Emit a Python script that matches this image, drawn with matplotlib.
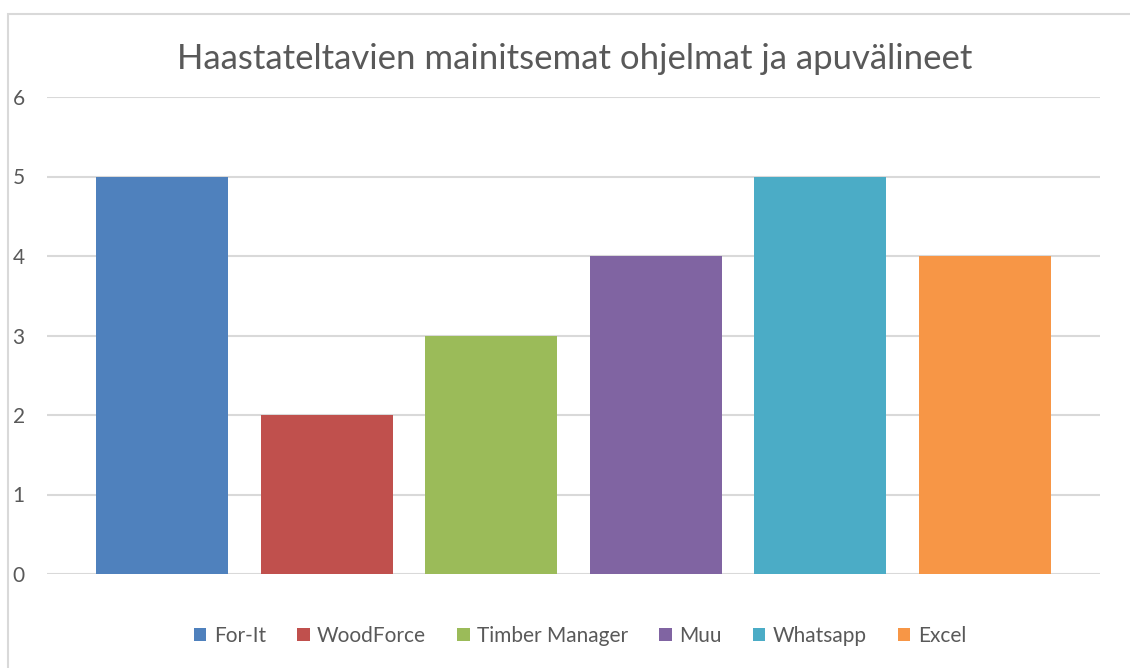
import matplotlib
matplotlib.use("Agg")
import matplotlib.pyplot as plt
from matplotlib.patches import Rectangle, Patch

categories = ["For-It", "WoodForce", "Timber Manager", "Muu", "Whatsapp", "Excel"]
values = [5, 2, 3, 4, 5, 4]
colors = ["#4f81bd", "#c0504d", "#9bbb59", "#8064a2", "#4bacc6", "#f79646"]
yticks = [0, 1, 2, 3, 4, 5, 6]

plt.rcParams["font.family"] = ["Lato", "DejaVu Sans"]
txt = "#595959"
grid = "#d9d9d9"

W, H = 1130, 668
fig = plt.figure(figsize=(W / 100, H / 100), dpi=100)

# chart border (only left/top visible in the crop)
fig.patches.append(Rectangle((8 / W, -0.1), 1.2, 1 - 14 / H + 0.1, transform=fig.transFigure,
                             fill=False, edgecolor=grid, linewidth=1.5))

ax = fig.add_axes([47 / W, (H - 574) / H, (1100 - 47) / W, (574 - 97) / H])
x = list(range(len(categories)))
ax.bar(x, values, width=0.8, color=colors, zorder=3)
ax.set_xlim(-0.7, 5.7)
ax.set_ylim(0, 6)
ax.set_yticks(yticks)
ax.set_xticks([])
ax.yaxis.grid(True, color=grid, linewidth=1.5, zorder=0)
for s in ax.spines.values():
    s.set_visible(False)
ax.tick_params(axis="y", length=0, pad=16, labelsize=15, labelcolor=txt)

fig.text(575 / W, 1 - 59 / H, "Haastateltavien mainitsemat ohjelmat ja apuvälineet",
         ha="center", va="center", fontsize=25, color=txt)

handles = [Patch(facecolor=c, label=n) for c, n in zip(colors, categories)]
fig.legend(handles=handles, loc="center", bbox_to_anchor=(580 / W, 1 - 636 / H), ncol=6,
           frameon=False, fontsize=15, labelcolor=txt, handlelength=0.6, handleheight=0.6,
           handletextpad=0.35, columnspacing=1.5)

fig.savefig("out.png", dpi=100)
